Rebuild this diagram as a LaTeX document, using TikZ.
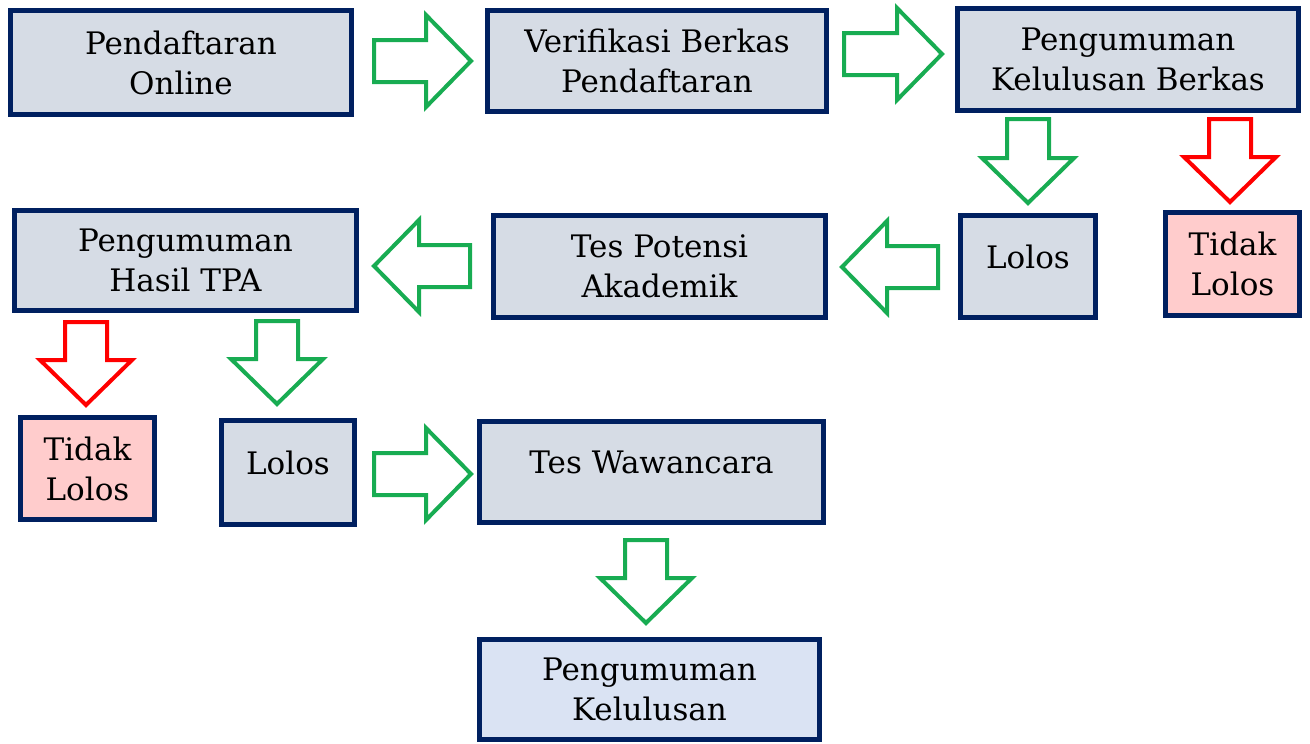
\documentclass[tikz,border=0pt]{standalone}
\usepackage{fontspec}
\setmainfont{DejaVu Serif}
\definecolor{navy}{HTML}{002060}
\definecolor{boxfill}{HTML}{D6DCE5}
\definecolor{lastfill}{HTML}{DAE3F3}
\definecolor{redfill}{HTML}{FFCCCC}
\definecolor{okgreen}{RGB}{24,172,82}
\definecolor{nored}{HTML}{FF0000}
\newcommand\blockarrow[5]{% colour, x, y, angle, length
  \begin{scope}[shift={(#2,#3)},rotate=#4]
    \draw[#1,line width=4pt,fill=white,line join=miter]
      (0,-21) -- ({#5-45},-21) -- ({#5-45},-46) -- (#5,0) -- ({#5-45},46) -- ({#5-45},21) -- (0,21) -- cycle;
  \end{scope}}
\begin{document}
\begin{tikzpicture}[x=1pt,y=-1pt,
  box/.style={draw=navy,line width=5pt,fill=boxfill,align=center,inner sep=0pt,
    font=\fontsize{31}{40}\selectfont},
  onel/.style={text depth=19pt},
]
\useasboundingbox (0,0) rectangle (1310,744);
% boxes
\node[box,minimum width=341pt,minimum height=104pt] (b1) at (181,62.5) {Pendaftaran\\Online};
\node[box,minimum width=339pt,minimum height=101pt] (b2) at (657,61) {Verifikasi Berkas\\Pendaftaran};
\node[box,minimum width=341pt,minimum height=102pt] (b3) at (1128,59.5) {Pengumuman\\Kelulusan Berkas};
\node[box,onel,minimum width=135pt,minimum height=102pt] (b4) at (1028,266.5) {Lolos};
\node[box,fill=redfill,minimum width=134pt,minimum height=103pt] (b5) at (1232.5,264) {Tidak\\Lolos};
\node[box,minimum width=332pt,minimum height=102pt] (b6) at (659.5,266.5) {Tes Potensi\\Akademik};
\node[box,minimum width=342pt,minimum height=100pt] (b7) at (185.5,260.5) {Pengumuman\\Hasil TPA};
\node[box,fill=redfill,minimum width=134pt,minimum height=102pt] (b8) at (87.5,468.5) {Tidak\\Lolos};
\node[box,onel,minimum width=133pt,minimum height=104pt] (b9) at (288,472.5) {Lolos};
\node[box,onel,minimum width=344pt,minimum height=101pt] (b10) at (651.5,472) {Tes Wawancara};
\node[box,fill=lastfill,minimum width=340pt,minimum height=100pt] (b11) at (649.5,689.5) {Pengumuman\\Kelulusan};
% block arrows
\blockarrow{okgreen}{374}{61}{0}{97}
\blockarrow{okgreen}{844}{54}{0}{98}
\blockarrow{okgreen}{1028}{119}{-90}{84}
\blockarrow{nored}{1230}{119}{-90}{83}
\blockarrow{okgreen}{938}{267}{180}{96}
\blockarrow{okgreen}{470}{266}{180}{96}
\blockarrow{nored}{86}{322}{-90}{83}
\blockarrow{okgreen}{277}{321}{-90}{83}
\blockarrow{okgreen}{374}{474}{0}{97}
\blockarrow{okgreen}{646}{540}{-90}{83}
\end{tikzpicture}
\end{document}
